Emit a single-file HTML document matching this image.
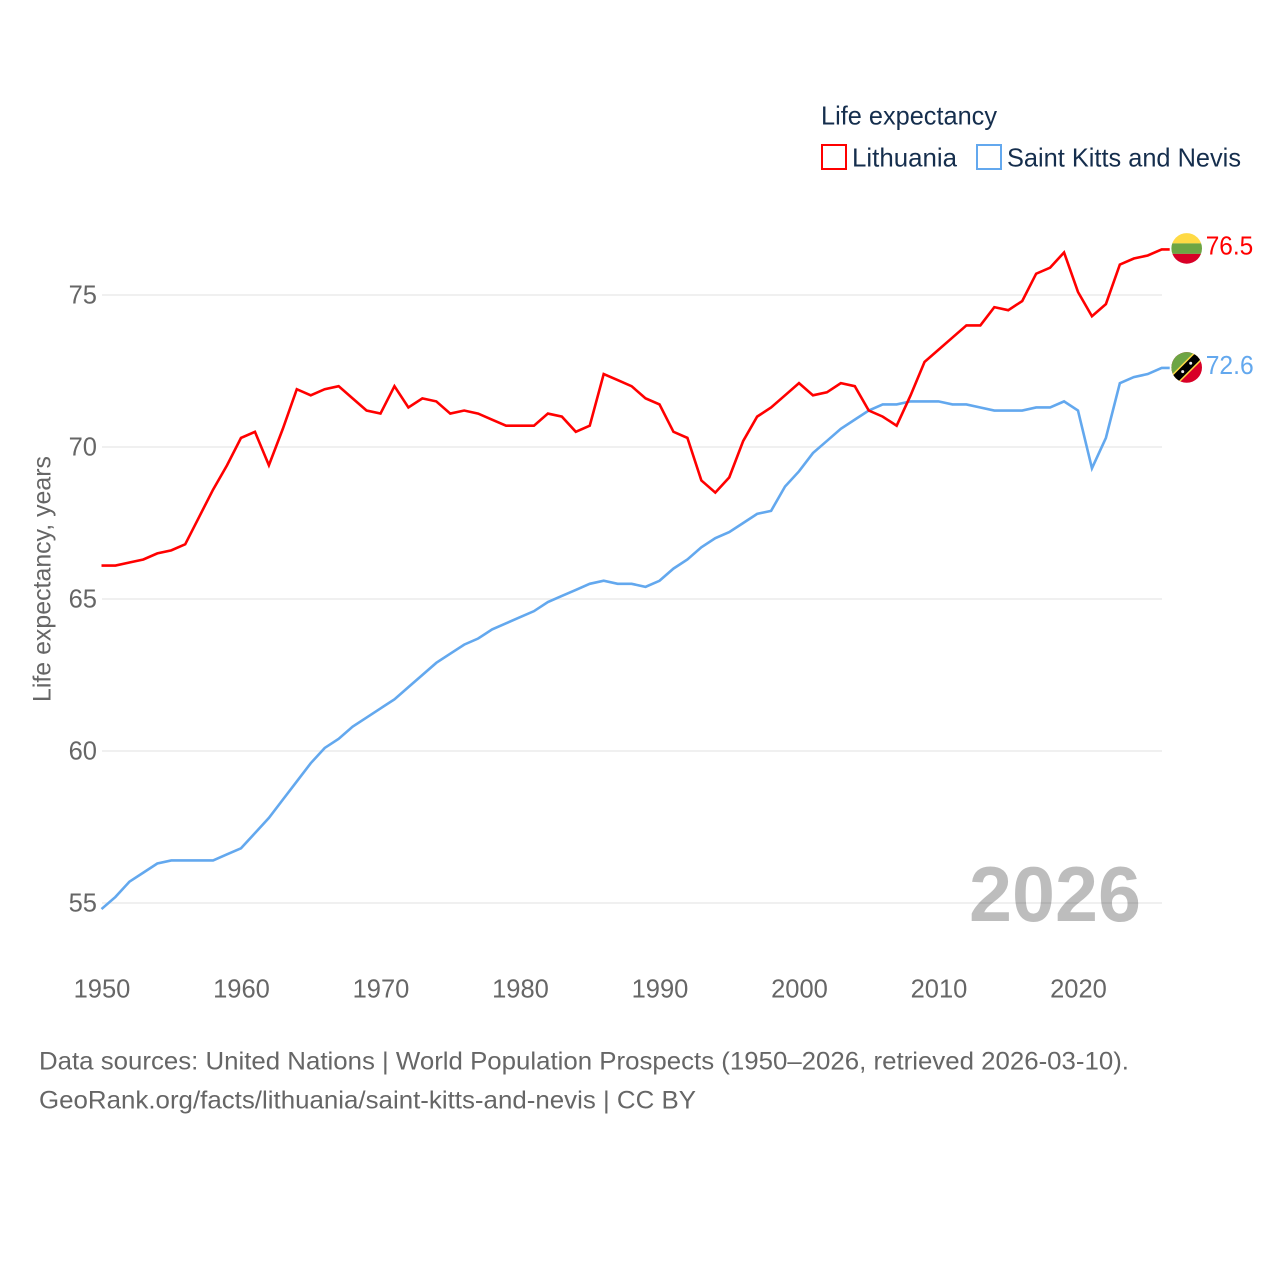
<!DOCTYPE html>
<html lang="en">
<head>
<meta charset="utf-8">
<title>Life expectancy: Lithuania and Saint Kitts and Nevis</title>
<style>
html,body{margin:0;padding:0;background:#fff;}
svg{display:block;font-family:"Liberation Sans",sans-serif;}
</style>
</head>
<body>
<svg id="chart" xmlns="http://www.w3.org/2000/svg" width="1280" height="1280" viewBox="0 0 1280 1280">
  <rect width="1280" height="1280" fill="#ffffff"/>
  <defs>
    <clipPath id="flag-clip"><circle cx="0" cy="0" r="15.3"/></clipPath>
  </defs>

  <g id="grid"></g>
  <g id="y-ticks"></g>
  <g id="x-ticks"></g>

  <text transform="translate(50.5,702) rotate(-90)" font-size="25" fill="#666666" textLength="246" lengthAdjust="spacingAndGlyphs">Life expectancy, years</text>

  <text x="969" y="921" font-size="78" font-weight="700" fill="#000000" fill-opacity="0.26" textLength="172" lengthAdjust="spacingAndGlyphs">2026</text>

  <g id="series"></g>
  <g id="end-markers"></g>

  <g>
    <text x="821" y="124.5" font-size="26" fill="#152e4d" textLength="176" lengthAdjust="spacingAndGlyphs">Life expectancy</text>
    <rect x="822" y="145" width="24" height="24" fill="none" stroke="#ff0000" stroke-width="2"/>
    <text x="852" y="166.5" font-size="26" fill="#152e4d" textLength="105" lengthAdjust="spacingAndGlyphs">Lithuania</text>
    <rect x="977" y="145" width="24" height="24" fill="none" stroke="#63a8ee" stroke-width="2"/>
    <text x="1007" y="166.5" font-size="26" fill="#152e4d" textLength="234" lengthAdjust="spacingAndGlyphs">Saint Kitts and Nevis</text>
  </g>

  <g>
    <text x="39" y="1069.5" font-size="25" fill="#666666" textLength="1090" lengthAdjust="spacingAndGlyphs">Data sources: United Nations | World Population Prospects (1950–2026, retrieved 2026-03-10).</text>
    <text x="39" y="1108.5" font-size="25" fill="#666666" textLength="657" lengthAdjust="spacingAndGlyphs">GeoRank.org/facts/lithuania/saint-kitts-and-nevis | CC BY</text>
  </g>
</svg>

<script>
const years = [1950,1951,1952,1953,1954,1955,1956,1957,1958,1959,1960,1961,1962,1963,1964,1965,1966,1967,1968,1969,1970,1971,1972,1973,1974,1975,1976,1977,1978,1979,1980,1981,1982,1983,1984,1985,1986,1987,1988,1989,1990,1991,1992,1993,1994,1995,1996,1997,1998,1999,2000,2001,2002,2003,2004,2005,2006,2007,2008,2009,2010,2011,2012,2013,2014,2015,2016,2017,2018,2019,2020,2021,2022,2023,2024,2025,2026];
const lithuania = [66.1,66.1,66.2,66.3,66.5,66.6,66.8,67.7,68.6,69.4,70.3,70.5,69.4,70.6,71.9,71.7,71.9,72.0,71.6,71.2,71.1,72.0,71.3,71.6,71.5,71.1,71.2,71.1,70.9,70.7,70.7,70.7,71.1,71.0,70.5,70.7,72.4,72.2,72.0,71.6,71.4,70.5,70.3,68.9,68.5,69.0,70.2,71.0,71.3,71.7,72.1,71.7,71.8,72.1,72.0,71.2,71.0,70.7,71.7,72.8,73.2,73.6,74.0,74.0,74.6,74.5,74.8,75.7,75.9,76.4,75.1,74.3,74.7,76.0,76.2,76.3,76.5];
const saintKittsNevis = [54.8,55.2,55.7,56.0,56.3,56.4,56.4,56.4,56.4,56.6,56.8,57.3,57.8,58.4,59.0,59.6,60.1,60.4,60.8,61.1,61.4,61.7,62.1,62.5,62.9,63.2,63.5,63.7,64.0,64.2,64.4,64.6,64.9,65.1,65.3,65.5,65.6,65.5,65.5,65.4,65.6,66.0,66.3,66.7,67.0,67.2,67.5,67.8,67.9,68.7,69.2,69.8,70.2,70.6,70.9,71.2,71.4,71.4,71.5,71.5,71.5,71.4,71.4,71.3,71.2,71.2,71.2,71.3,71.3,71.5,71.2,69.3,70.3,72.1,72.3,72.4,72.6];
const yTickValues = [55,60,65,70,75];
const xTickYears = [1950,1960,1970,1980,1990,2000,2010,2020];

const NS = 'http://www.w3.org/2000/svg';
const RED = '#ff0000';
const BLUE = '#63a8ee';

function xScale(year) {
  return 101.5 + (year - 1950) * 13.95;
}
function yScale(value) {
  return 903 - (value - 55) * (903 - 295) / 20;
}
function make(tag, attrs) {
  const el = document.createElementNS(NS, tag);
  for (const key in attrs) el.setAttribute(key, attrs[key]);
  return el;
}

const gridGroup = document.getElementById('grid');
const yGroup = document.getElementById('y-ticks');
yTickValues.forEach(function (v) {
  const line = make('line', {x1: 102, x2: 1162, y1: yScale(v), y2: yScale(v), stroke: '#ebebeb', 'stroke-width': 1.5});
  
  
  gridGroup.appendChild(line);
  const label = make('text', {x: 97, y: yScale(v) + 8.5, 'text-anchor': 'end', 'font-size': 25.5, fill: '#666666'});
  
  
  label.textContent = String(v);
  yGroup.appendChild(label);
});

const xGroup = document.getElementById('x-ticks');
xTickYears.forEach(function (y) {
  const label = make('text', {x: xScale(y) + 0.5, y: 997.5, 'text-anchor': 'middle', 'font-size': 25.5, fill: '#666666'});
  
  
  label.textContent = String(y);
  xGroup.appendChild(label);
});

function linePoints(values) {
  const pts = values.map(function (v, i) {
    return xScale(years[i]).toFixed(2) + ',' + yScale(v).toFixed(2);
  });
  const last = values[values.length - 1];
  pts.push((xScale(years[years.length - 1]) + 8).toFixed(2) + ',' + yScale(last).toFixed(2));
  return pts.join(' ');
}

const seriesGroup = document.getElementById('series');

const lineBlue = make('polyline', {points: linePoints(saintKittsNevis), fill: 'none', stroke: BLUE, 'stroke-width': 2.6, 'stroke-linejoin': 'miter'});


seriesGroup.appendChild(lineBlue);

const lineRed = make('polyline', {points: linePoints(lithuania), fill: 'none', stroke: RED, 'stroke-width': 2.6, 'stroke-linejoin': 'miter'});


seriesGroup.appendChild(lineRed);

const markers = document.getElementById('end-markers');
const flagX = xScale(years[years.length - 1]) + 25;
const labelX = xScale(years[years.length - 1]) + 44;

/* Lithuania flag */
const ltValue = lithuania[lithuania.length - 1];
const ltFlag = make('g', {transform: 'translate(' + flagX + ',' + (yScale(ltValue) - 1) + ')', 'clip-path': 'url(#flag-clip)'});


ltFlag.appendChild(make('rect', {x: -16, y: -16, width: 32, height: 11, fill: '#ffda44'}));
ltFlag.appendChild(make('rect', {x: -16, y: -5, width: 32, height: 10.5, fill: '#6da544'}));
ltFlag.appendChild(make('rect', {x: -16, y: 5.5, width: 32, height: 11, fill: '#d80027'}));
markers.appendChild(ltFlag);

const ltLabel = make('text', {x: labelX, y: yScale(ltValue) + 5, 'font-size': 25.5, fill: RED, textLength: 47.5, lengthAdjust: 'spacingAndGlyphs'});


ltLabel.textContent = ltValue.toFixed(1);
markers.appendChild(ltLabel);

/* Saint Kitts and Nevis flag */
const knValue = saintKittsNevis[saintKittsNevis.length - 1];
const knFlag = make('g', {transform: 'translate(' + flagX + ',' + (yScale(knValue) - 0.5) + ')', 'clip-path': 'url(#flag-clip)'});


knFlag.appendChild(make('rect', {x: -16, y: -16, width: 32, height: 32, fill: '#d80027'}));
knFlag.appendChild(make('polygon', {points: '-16,-16 16,-16 -16,16', fill: '#6da544'}));
knFlag.appendChild(make('line', {x1: -17, y1: 17, x2: 17, y2: -17, stroke: '#ffda44', 'stroke-width': 11}));
knFlag.appendChild(make('line', {x1: -17, y1: 17, x2: 17, y2: -17, stroke: '#000000', 'stroke-width': 8}));
knFlag.appendChild(make('circle', {cx: -4, cy: 4.2, r: 1.5, fill: '#eeeeee'}));
knFlag.appendChild(make('circle', {cx: 4, cy: -4.2, r: 1.5, fill: '#eeeeee'}));
markers.appendChild(knFlag);

const knLabel = make('text', {x: labelX, y: yScale(knValue) + 6, 'font-size': 25.5, fill: BLUE, textLength: 48, lengthAdjust: 'spacingAndGlyphs'});


knLabel.textContent = knValue.toFixed(1);
markers.appendChild(knLabel);
</script>
</body>
</html>
